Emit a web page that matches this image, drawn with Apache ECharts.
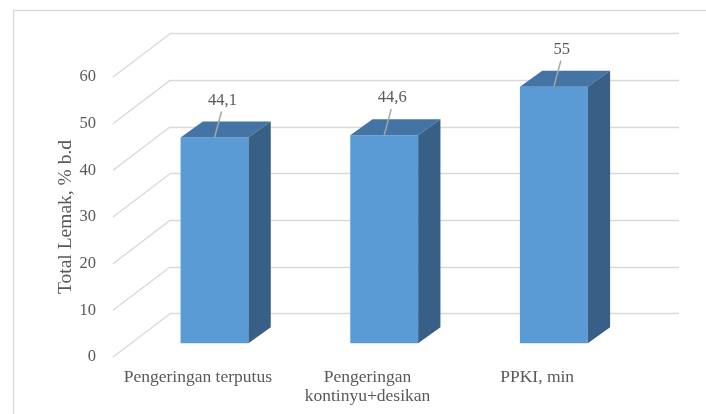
<!DOCTYPE html>
<html>
<head>
<meta charset="utf-8">
<script src="https://cdn.jsdelivr.net/npm/echarts@6/dist/echarts.min.js"></script>
<style>
html,body{margin:0;padding:0;background:#fff}
#chart{width:706px;height:414px}
</style>
</head>
<body>
<div id="chart"></div>
<script>
// data
var categories = ['Pengeringan terputus', 'Pengeringan\nkontinyu+desikan', 'PPKI, min'];
var lemakValues = [44.1, 44.6, 55];
var yTicks = [0, 10, 20, 30, 40, 50, 60];

var FONT = 'Liberation Serif';
var GREY = '#595959';
var GRID_LINE = '#D9D9D9';
// fake 3D offsets (px)
var DEPTH_X = 57, DEPTH_Y = -43.3;   // back wall vs front plane
var BAR_X = 16.7, BAR_Y = -13.7;     // bar front face vs front plane
var BAR_DX = 22.3, BAR_DY = -16;     // bar depth

function renderDiagonal(params, api) {
  var p = api.coord([0, api.value(1)]);
  var band = api.size([1, 0])[0];
  var x0 = p[0] - band / 2;
  return {
    type: 'line',
    shape: {x1: x0, y1: p[1], x2: x0 + DEPTH_X, y2: p[1] + DEPTH_Y},
    style: {stroke: GRID_LINE, lineWidth: 1.3}
  };
}

function renderBar(params, api) {
  var i = api.value(0), v = api.value(1);
  var top = api.coord([i, v]), base = api.coord([i, 0]);
  var w = api.size([1, 0])[0] * 0.4;
  var x1 = top[0] + BAR_X - w / 2, x2 = x1 + w;
  var yt = top[1] + BAR_Y, yb = base[1] + BAR_Y;
  var cx = (x1 + x2) / 2;
  return {
    type: 'group',
    children: [
      {type: 'polygon', shape: {points: [[x1, yb], [x2, yb], [x2, yt], [x1, yt]]},
        style: {fill: '#5B9BD5'}},
      {type: 'polygon', shape: {points: [[x1, yt], [x2, yt], [x2 + BAR_DX, yt + BAR_DY], [x1 + BAR_DX, yt + BAR_DY]]},
        style: {fill: '#4374A5'}},
      {type: 'polygon', shape: {points: [[x2, yb], [x2 + BAR_DX, yb + BAR_DY], [x2 + BAR_DX, yt + BAR_DY], [x2, yt]]},
        style: {fill: '#385F86'}},
      {type: 'line', shape: {x1: cx, y1: yt, x2: cx + 7, y2: yt - 26},
        style: {stroke: '#A6A6A6', lineWidth: 1.5}},
      {type: 'text', x: cx + 8, y: yt - 37,
        style: {text: String(v).replace('.', ','), fontFamily: FONT, fontSize: 16.5,
          fill: GREY, align: 'center', verticalAlign: 'middle'}}
    ]
  };
}

var chart = echarts.init(document.getElementById('chart'));
chart.setOption({
  animation: false,
  backgroundColor: '#fff',
  graphic: [{
    type: 'rect', left: 11, top: 8,
    shape: {width: 720, height: 420},
    style: {fill: 'none', stroke: GRID_LINE, lineWidth: 1.3}
  }],
  grid: [
    // back wall
    {left: 170, top: 33.7, width: 509, height: 280},
    // front plane
    {left: 113, top: 77, width: 509, height: 280}
  ],
  xAxis: [
    {gridIndex: 0, type: 'category', data: categories, show: false},
    {gridIndex: 1, type: 'category', data: categories,
      axisLine: {show: false}, axisTick: {show: false},
      axisLabel: {fontFamily: FONT, fontSize: 17.5, lineHeight: 19, color: GREY, margin: 10.5, interval: 0}}
  ],
  yAxis: [
    {gridIndex: 0, type: 'value', min: 0, max: 60, interval: 10,
      axisLine: {show: false}, axisTick: {show: false}, axisLabel: {show: false},
      splitLine: {lineStyle: {color: GRID_LINE, width: 1.3}}},
    {gridIndex: 1, type: 'value', min: 0, max: 60, interval: 10,
      axisLine: {show: false}, axisTick: {show: false}, splitLine: {show: false},
      axisLabel: {fontFamily: FONT, fontSize: 16.5, color: GREY, margin: 17},
      name: 'Total Lemak, % b.d', nameLocation: 'middle', nameGap: 37, nameMoveOverlap: false,
      nameTextStyle: {fontFamily: FONT, fontSize: 19.5, color: GREY}}
  ],
  series: [
    {type: 'custom', xAxisIndex: 1, yAxisIndex: 1, clip: false, silent: true,
      renderItem: renderDiagonal,
      data: yTicks.map(function (t) { return [0, t]; })},
    {type: 'custom', xAxisIndex: 1, yAxisIndex: 1, clip: false,
      renderItem: renderBar,
      data: lemakValues.map(function (v, i) { return [i, v]; })}
  ]
});
</script>
</body>
</html>
